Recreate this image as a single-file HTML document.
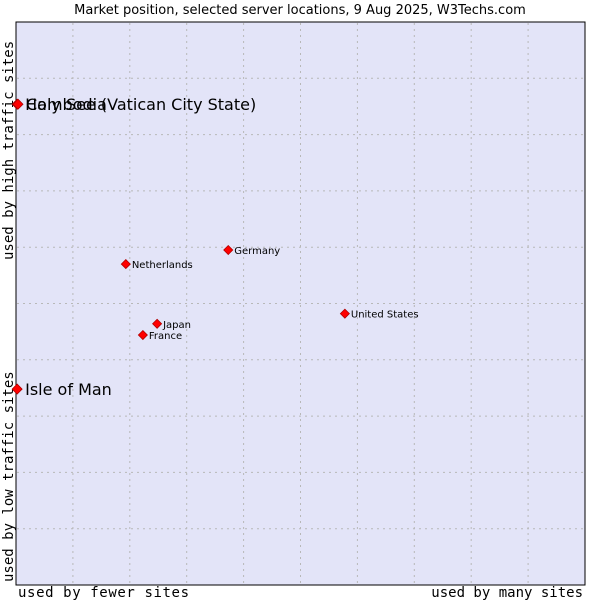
<!DOCTYPE html>
<html><head><meta charset="utf-8"><style>
body{margin:0;background:#fff;width:600px;height:600px;overflow:hidden}
svg text{font-family:"DejaVu Sans","Liberation Sans",sans-serif}
.mono{font-family:"DejaVu Sans Mono","Liberation Mono",monospace}
</style></head><body>
<svg id="chart" width="600" height="600">
<text x="300" y="14" text-anchor="middle" font-size="13" fill="#000">Market position, selected server locations, 9 Aug 2025, W3Techs.com</text>
<rect x="16" y="22" width="569" height="563" fill="#e3e4f8" stroke="#000" stroke-width="1"/>
<g id="grid"></g>
<text class="mono" x="18" y="597" font-size="14" textLength="171">used by fewer sites</text>
<text class="mono" x="583" y="597" font-size="14" text-anchor="end">used by many sites</text>
<text class="mono" transform="translate(13,260) rotate(-90)" font-size="14">used by high traffic sites</text>
<text class="mono" transform="translate(13,582) rotate(-90)" font-size="14">used by low traffic sites</text>
<g id="points"></g>
</svg>
<script>
const countries=["Holy See (Vatican City State)","Cambodia","Isle of Man","Netherlands","Germany","Japan","France","United States"];
const xValues=[0.2,0.35,0.2,19.3,37.3,24.8,22.3,57.8];
const yValues=[85.4,85.4,34.8,57.0,59.5,46.4,44.4,48.2];
const bigLabel=[true,true,true,false,false,false,false,false];
const L=16,T=22,W=569,H=563;
const xs=v=>L+v/100*W, ys=v=>T+H-v/100*H;
const ns="http://www.w3.org/2000/svg";
const grid=document.getElementById('grid');
for(let i=1;i<10;i++){
 const a=document.createElementNS(ns,'line');
 
 
 a.setAttribute('x1',xs(i*10));a.setAttribute('x2',xs(i*10));a.setAttribute('y1',T+1);a.setAttribute('y2',T+H-1);
 a.setAttribute('stroke','#b8b8b8');a.setAttribute('stroke-dasharray','2,4');grid.appendChild(a);
 const b=document.createElementNS(ns,'line');
 
 
 b.setAttribute('y1',ys(i*10));b.setAttribute('y2',ys(i*10));b.setAttribute('x1',L+1);b.setAttribute('x2',L+W-1);
 b.setAttribute('stroke','#b8b8b8');b.setAttribute('stroke-dasharray','2,4');grid.appendChild(b);
}
const pts=document.getElementById('points');
countries.forEach((c,i)=>{
 const x=xs(xValues[i]),y=ys(yValues[i]);const r=bigLabel[i]?5:4.5;
 const p=document.createElementNS(ns,'polygon');
 
 
 p.setAttribute('points',`${x},${y-r} ${x+r},${y} ${x},${y+r} ${x-r},${y}`);
 p.setAttribute('fill','#ff0000');p.setAttribute('stroke','#b00000');p.setAttribute('stroke-width','0.8');
 pts.appendChild(p);
 const t=document.createElementNS(ns,'text');
 
 
 t.setAttribute('x',x+(bigLabel[i]?8:6));t.setAttribute('y',y+(bigLabel[i]?6:4));
 t.setAttribute('font-size',bigLabel[i]?'16':'10');t.textContent=c;pts.appendChild(t);
});
</script>
</body></html>
